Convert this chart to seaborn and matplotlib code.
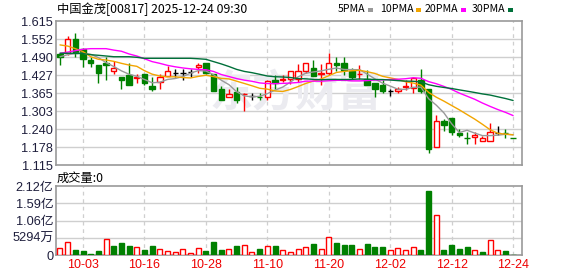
import numpy as np
import pandas as pd
import matplotlib
matplotlib.use('Agg')
import matplotlib.pyplot as plt
from matplotlib.patches import Rectangle
import seaborn as sns

# ---------------- data ----------------
dates = ['09-29', '09-30', '10-02', '10-03', '10-06', '10-08', '10-09', '10-10', '10-13', '10-14',
         '10-15', '10-16', '10-17', '10-20', '10-21', '10-22', '10-23', '10-24', '10-27', '10-28',
         '10-30', '10-31', '11-03', '11-04', '11-05', '11-06', '11-07', '11-10', '11-11', '11-12',
         '11-13', '11-14', '11-17', '11-18', '11-19', '11-20', '11-21', '11-24', '11-25', '11-26',
         '11-27', '11-28', '12-01', '12-02', '12-03', '12-04', '12-05', '12-08', '12-09', '12-10',
         '12-11', '12-12', '12-15', '12-16', '12-17', '12-18', '12-19', '12-22', '12-23', '12-24']
label_dates = ['10-03', '10-16', '10-28', '11-10', '11-20', '12-02', '12-12', '12-24']

opens = [1.5014, 1.5061, 1.5524, 1.5200, 1.4806, 1.4621, 1.4714, 1.4436, 1.4204, 1.4297,
         1.4190, 1.4320, 1.3903, 1.4042, 1.4251, 1.4366, 1.4366, 1.4401, 1.4551, 1.4714,
         1.4320, 1.3811, 1.3533, 1.3695, 1.3610, 1.3556, 1.3533, 1.3533, 1.4112, 1.4112,
         1.4135, 1.4157, 1.4436, 1.4528, 1.4310, 1.4343, 1.4714, 1.4714, 1.4413, 1.4310,
         1.4158, 1.4019, 1.3950, 1.3718, 1.3718, 1.3870, 1.3834, 1.4112, 1.3788, 1.1796,
         1.2676, 1.2792, 1.2283, 1.2109, 1.2121, 1.2005, 1.2005, 1.2283, 1.2271, 1.2100]
highs = [1.5040, 1.5639, 1.5732, 1.5223, 1.4922, 1.4621, 1.4899, 1.4760, 1.4204, 1.4690,
         1.4320, 1.4320, 1.4204, 1.4320, 1.4598, 1.4505, 1.4505, 1.4505, 1.4714, 1.4714,
         1.4320, 1.3903, 1.3811, 1.3880, 1.3672, 1.3672, 1.3649, 1.4112, 1.4297, 1.4297,
         1.4413, 1.4667, 1.4714, 1.4806, 1.4680, 1.5038, 1.4922, 1.4922, 1.4528, 1.4621,
         1.4459, 1.4019, 1.4112, 1.3788, 1.3880, 1.4112, 1.4227, 1.4505, 1.3788, 1.2885,
         1.2769, 1.2792, 1.2399, 1.2306, 1.2306, 1.2167, 1.2607, 1.2515, 1.2399, 1.2100]
lows = [1.4644, 1.4968, 1.4922, 1.4552, 1.4552, 1.4019, 1.4112, 1.4320, 1.3811, 1.3927,
        1.4019, 1.3927, 1.3718, 1.3811, 1.4251, 1.4204, 1.4112, 1.4227, 1.4343, 1.4320,
        1.3718, 1.3417, 1.3533, 1.3325, 1.3024, 1.3417, 1.3417, 1.3417, 1.3811, 1.4042,
        1.3973, 1.4040, 1.4366, 1.4251, 1.3930, 1.4297, 1.4413, 1.4297, 1.4158, 1.4158,
        1.3927, 1.3533, 1.3649, 1.3556, 1.3649, 1.3764, 1.3649, 1.3649, 1.1589, 1.1796,
        1.2329, 1.2214, 1.2121, 1.1889, 1.1889, 1.2005, 1.2005, 1.2214, 1.2098, 1.2098]
closes = [1.4922, 1.5524, 1.5038, 1.4829, 1.4714, 1.4343, 1.4644, 1.4528, 1.4112, 1.3927,
          1.4210, 1.4019, 1.3811, 1.4204, 1.4413, 1.4366, 1.4366, 1.4401, 1.4644, 1.4343,
          1.3718, 1.3417, 1.3626, 1.3417, 1.3620, 1.3556, 1.3510, 1.4089, 1.4019, 1.4158,
          1.4413, 1.4424, 1.4714, 1.4251, 1.4340, 1.4690, 1.4644, 1.4459, 1.4227, 1.4330,
          1.3927, 1.3811, 1.3718, 1.3718, 1.3788, 1.3890, 1.4181, 1.3741, 1.1704, 1.2676,
          1.2538, 1.2306, 1.2214, 1.2098, 1.2191, 1.2098, 1.2306, 1.2283, 1.2260, 1.2098]

ma5 = [1.492, 1.499, 1.503, 1.504, 1.5005, 1.489, 1.4714, 1.458, 1.443, 1.4311,
       1.424, 1.413, 1.4016, 1.4034, 1.4131, 1.4163, 1.4232, 1.435, 1.4438, 1.4424,
       1.4294, 1.4105, 1.395, 1.3704, 1.356, 1.3527, 1.3546, 1.3638, 1.3759, 1.3866,
       1.4038, 1.4221, 1.4346, 1.4392, 1.4428, 1.4484, 1.4528, 1.4477, 1.4472, 1.447,
       1.4317, 1.4151, 1.4003, 1.3901, 1.3792, 1.3785, 1.3859, 1.3864, 1.3461, 1.3238,
       1.2968, 1.2593, 1.2288, 1.2366, 1.2269, 1.2181, 1.2181, 1.2195, 1.2228, 1.2209]
ma10 = [1.533, 1.529, 1.520, 1.5095, 1.492, 1.483, 1.4806, 1.476, 1.469, 1.463,
        1.4587, 1.4436, 1.4314, 1.4251, 1.4221, 1.4223, 1.4196, 1.4183, 1.4236, 1.4278,
        1.4229, 1.4168, 1.415, 1.4071, 1.3992, 1.3911, 1.3825, 1.3794, 1.3732, 1.3713,
        1.3783, 1.3883, 1.3992, 1.4075, 1.4147, 1.4261, 1.4374, 1.4411, 1.4432, 1.4449,
        1.4401, 1.4339, 1.424, 1.4186, 1.4131, 1.4051, 1.4005, 1.3933, 1.3681, 1.3515,
        1.3377, 1.3226, 1.3076, 1.2914, 1.2754, 1.2575, 1.2387, 1.2261, 1.2232, 1.2210]
ma20 = [1.504, 1.508, 1.513, 1.518, 1.520, 1.520, 1.520, 1.515, 1.511, 1.5015,
        1.4945, 1.485, 1.475, 1.469, 1.462, 1.457, 1.453, 1.450, 1.448, 1.4468,
        1.4408, 1.4302, 1.4232, 1.4161, 1.4106, 1.4067, 1.401, 1.3988, 1.3984, 1.3995,
        1.4006, 1.4026, 1.4071, 1.4073, 1.407, 1.4086, 1.41, 1.4103, 1.4082, 1.4081,
        1.4092, 1.4111, 1.4116, 1.4131, 1.4139, 1.4156, 1.419, 1.4172, 1.4056, 1.3982,
        1.3889, 1.3783, 1.3658, 1.355, 1.3443, 1.3313, 1.3196, 1.3087, 1.2989, 1.2877]
ma30 = [1.504, 1.504, 1.504, 1.503, 1.499, 1.497, 1.4945, 1.492, 1.492, 1.492,
        1.490, 1.4865, 1.4865, 1.4865, 1.4865, 1.4865, 1.4865, 1.4865, 1.485, 1.483,
        1.475, 1.467, 1.458, 1.448, 1.441, 1.4366, 1.431, 1.425, 1.4226, 1.4216,
        1.4199, 1.4163, 1.4152, 1.4133, 1.412, 1.4132, 1.4132, 1.4129, 1.4133, 1.4147,
        1.4137, 1.413, 1.4127, 1.4111, 1.409, 1.4074, 1.4068, 1.4046, 1.3948, 1.3893,
        1.3853, 1.3816, 1.3769, 1.3725, 1.3678, 1.3629, 1.3589, 1.3529, 1.347, 1.3401]

# volume in 万 shares
volume = [2046, 3990, 1535, 1228, 307, 1228, 4808, 2762, 3683, 2762,
          2353, 1535, 2762, 1739, 1228, 921, 1739, 716, 2046, 1228,
          3990, 1535, 1739, 2762, 2967, 921, 1739, 2762, 2762, 1535,
          800, 1739, 2353, 3376, 1739, 5422, 3683, 3069, 3069, 1739,
          3376, 2455, 2455, 1432, 2046, 1432, 2353, 1535, 19642, 12174,
          1535, 2967, 1841, 2455, 1432, 921, 4604, 1432, 1228, 0]
vol_dir = list("RRGGGGRGGG" "RGGRRRRRRG" "GGRGRRGRGR" "RRRGRRGGGR" "GGGRRRRGGR" "GGGGRGRRGG")

price_tick_labels = ['1.115', '1.178', '1.240', '1.303', '1.365', '1.427', '1.490', '1.552', '1.615']
vol_tick_values = [0, 5294, 10588, 15882, 21176]
vol_tick_labels = ['0', '5294万', '1.06亿', '1.59亿', '2.12亿']

ma_names = ['5PMA', '10PMA', '20PMA', '30PMA']
ma_colors = ['#999999', '#f2a500', '#ff00ff', '#00703a']

title = '中国金茂[00817] 2025-12-24 09:30'
vol_title = '成交量:0'
watermark = '东方财富'

# ---------------- style ----------------
sns.set_theme(style='white')
plt.rcParams['font.family'] = ['Liberation Sans', 'Noto Sans CJK SC']
plt.rcParams['axes.unicode_minus'] = False

RED = '#ff0000'
GREEN = '#008000'
GRID = '#cfcfcf'
SPINE = '#999999'
LBL = '#1e1e3c'

W, H = 578, 276
fig = plt.figure(figsize=(W / 100, H / 100), dpi=100)
fig.patch.set_facecolor('white')

ax = fig.add_axes([56 / W, 1 - 165.3 / H, 466 / W, 144 / H])
axv = fig.add_axes([56 / W, 1 - 255 / H, 466 / W, 69 / H])

x = np.arange(len(dates))
o = np.array(opens); c = np.array(closes); hi = np.array(highs); lo = np.array(lows)

# ---------------- candles ----------------
cols = np.where(c > o, RED, np.where(c < o, GREEN, '#000000'))
faces = np.where(c > o, 'white', np.where(c < o, GREEN, '#000000'))
ax.vlines(x, lo, hi, colors=cols, linewidth=1.0, zorder=2)
ax.bar(x, np.abs(c - o), bottom=np.minimum(o, c), width=0.7,
       color=faces, edgecolor=cols, linewidth=1.0, zorder=3)

# ---------------- moving averages ----------------
ma_df = pd.DataFrame({'x': np.tile(x, 4),
                      'v': np.concatenate([ma5, ma10, ma20, ma30]),
                      'ma': np.repeat(ma_names, len(x))})
sns.lineplot(data=ma_df, x='x', y='v', hue='ma', palette=dict(zip(ma_names, ma_colors)),
             linewidth=1.0, legend=False, ax=ax, zorder=4)

# ---------------- volume ----------------
vcols = [RED if d == 'R' else GREEN for d in vol_dir]
vfaces = ['white' if d == 'R' else GREEN for d in vol_dir]
axv.bar(x, volume, width=0.65, color=vfaces, edgecolor=vcols, linewidth=1.0, zorder=3)

# ---------------- axes formatting ----------------
xmin, xmax = -0.52, 60.16
tick_pos = [dates.index(d) for d in label_dates]
for a in (ax, axv):
    a.set_xlim(xmin, xmax)
    a.set_xlabel(''); a.set_ylabel('')
    for s in a.spines.values():
        s.set_color(SPINE); s.set_linewidth(1.2); s.set_visible(True)
    a.set_xticks(tick_pos)
    a.tick_params(length=0)
    for tp in tick_pos:
        a.axvline(tp, color=GRID, lw=0.9, ls=(0, (3, 3)), zorder=0)

price_ticks = np.linspace(1.115, 1.615, len(price_tick_labels))
ax.set_ylim(price_ticks[0], price_ticks[-1])
ax.set_yticks(price_ticks)
ax.set_yticklabels(price_tick_labels)
ax.set_xticklabels([])
for t in price_ticks[1:-1]:
    ax.axhline(t, color=GRID, lw=1.0, zorder=0)
ax.tick_params(axis='y', pad=2, labelsize=9.2, colors=LBL)

axv.set_ylim(0, vol_tick_values[-1])
axv.set_yticks(vol_tick_values)
axv.set_yticklabels(vol_tick_labels)
axv.set_xticklabels(label_dates)
for t in vol_tick_values[1:-1]:
    axv.axhline(t, color=GRID, lw=1.0, zorder=0)
axv.tick_params(axis='y', pad=2, labelsize=9.2, colors=LBL)
axv.tick_params(axis='x', pad=3, labelsize=9.0, colors='#ee0000')

# watermark
ax.text(0.515, 0.50, watermark, transform=ax.transAxes, fontsize=31, fontweight='bold',
        color='#ebebf0', ha='center', va='center', zorder=1,
        family=['Noto Sans CJK SC'])

# ---------------- texts ----------------
fig.text(57 / W, 1 - 9 / H, title, fontsize=8.8, color='#000000', ha='left', va='center',
         family=['Noto Sans CJK SC'])
fig.text(57 / W, 1 - 178 / H, vol_title, fontsize=8.8, color='#000000', ha='left', va='center',
         family=['Noto Sans CJK SC'])

renderer = fig.canvas.get_renderer()
leg_text_x = [338, 380, 425, 472]
for name, col, tx in zip(ma_names, ma_colors, leg_text_x):
    t = fig.text(tx / W, 1 - 9 / H, name, fontsize=7.6, color='#000000', ha='left', va='center',
                 family=['Noto Sans CJK SC'])
    bb = t.get_window_extent(renderer=renderer)
    sx = bb.x1 + 2
    fig.patches.append(Rectangle((sx / W, 1 - 11.5 / H), 5 / W, 4 / H,
                                 transform=fig.transFigure, facecolor=col, edgecolor='none'))

fig.savefig('out.png', dpi=100, facecolor='white')
